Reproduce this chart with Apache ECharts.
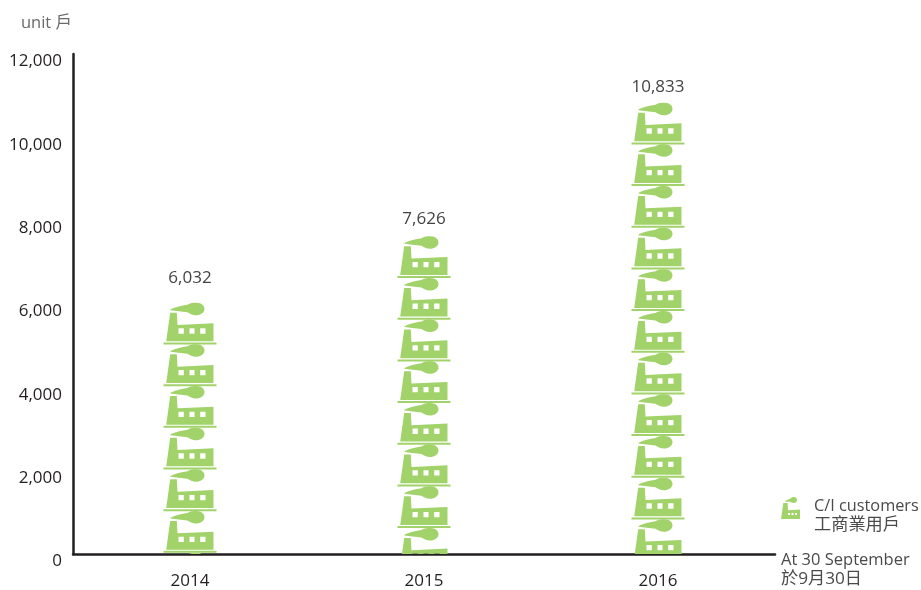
<!DOCTYPE html>
<html>
<head>
<meta charset="utf-8">
<style>
html, body { margin: 0; padding: 0; background: #fff; }
#chart { width: 921px; height: 590px; }
</style>
<script src="https://cdn.jsdelivr.net/npm/echarts@6/dist/echarts.min.js"></script>
</head>
<body>
<div id="chart"></div>
<script>
const years = ['2014', '2015', '2016'];
const customers = [6032, 7626, 10833];
const labelGaps = [25, 17, 15];

const FONT = '"Open Sans", "Noto Sans CJK TC", sans-serif';
const GREEN = '#a1d36a';
// one factory, drawn in a 53x42 box, windows wind the other way so they stay empty
const FACTORY = 'M0,39.8L53,39.8L53,41.8L0,41.8Z' +
    'M6.7,10L13.3,10L14,22.3L50,20.7L50,38.7L2.7,38.7Z' +
    'M15,25.7L15,31L20.3,31L20.3,25.7Z' +
    'M26,25.7L26,31L31,31L31,25.7Z' +
    'M36.7,25.7L36.7,31L42,31L42,25.7Z' +
    'M7,6.7C12,4 18,2.8 24,2C26,0.3 30,0 33,0C38,0 41,3 41,6C41,10 37,12.5 32.5,12.5C29,12.5 26,11 24,9.5C18,9 12,8.3 7,7.5Z';
// legend version, about 19x22, with empty room below so it lines up with the first text line
const FACTORY_LEGEND = 'M2.3,6L6.6,6L7,13.3L19,12.5L19,22L0,22Z' +
    'M7,16L7,18L9,18L9,16Z' +
    'M10.5,16L10.5,18L12.5,18L12.5,16Z' +
    'M14,16L14,18L16,18L16,16Z' +
    'M4,4C6,3 7.5,2.4 9,2C10,0.5 11.5,0 13,0C15,0 16,1.5 16,3C16,5 14.5,6 12.5,6C11,6 10,5.5 9,4.8C7,4.8 5.5,4.7 4,4.5Z' +
    'M21,38L21,38Z';

const chart = echarts.init(document.getElementById('chart'));

function renderFactories(params, api) {
    const top = api.coord([api.value(0), api.value(1)]);
    const base = api.coord([api.value(0), 0]);
    const period = api.size([0, 1000])[1];
    const count = Math.ceil(api.value(1) / 1000);
    const left = top[0] - 26.5;
    const icons = [];
    for (let i = 0; i < count; i++) {
        icons.push({
            type: 'path',
            shape: { pathData: FACTORY, x: left, y: top[1] + i * period, width: 53, height: 41.8 },
            style: { fill: GREEN }
        });
    }
    return {
        type: 'group',
        children: [
            {
                type: 'group',
                children: icons,
                clipPath: { type: 'rect', shape: { x: left - 2, y: top[1] - 2, width: 57, height: base[1] - top[1] + 2 } }
            },
            {
                type: 'text',
                style: {
                    x: top[0],
                    y: top[1] - labelGaps[params.dataIndex],
                    text: echarts.format.addCommas(api.value(1)),
                    fill: '#444',
                    font: '17px ' + FONT,
                    align: 'center',
                    verticalAlign: 'middle'
                }
            }
        ]
    };
}

chart.setOption({
    animation: false,
    textStyle: { fontFamily: FONT },
    grid: { left: 73, right: 146, top: 54, bottom: 35 },
    legend: {
        left: 776,
        top: 492,
        orient: 'vertical',
        itemWidth: 21,
        itemHeight: 38,
        selectedMode: false,
        formatter: function () { return 'C/I customers\n{cjk|工商業用戶}'; },
        textStyle: {
            fontSize: 16.3,
            color: '#4a4a4a',
            lineHeight: 19,
            padding: [0, 0, 0, 7],
            rich: { cjk: { fontSize: 17.2, color: '#4a4a4a', lineHeight: 19 } }
        },
        data: [{ name: 'C/I customers\n工商業用戶', icon: 'path://' + FACTORY_LEGEND }]
    },
    xAxis: {
        type: 'category',
        data: years,
        name: 'At 30 September\n{cjk|於9月30日}',
        nameLocation: 'end',
        nameGap: 6,
        nameTextStyle: {
            fontSize: 16.5,
            color: '#4a4a4a',
            lineHeight: 19,
            align: 'left',
            verticalAlign: 'top',
            padding: [-3, 0, 0, 0],
            rich: { cjk: { fontSize: 17.2, color: '#4a4a4a', lineHeight: 19 } }
        },
        axisLine: { lineStyle: { color: '#231f20', width: 2.5 } },
        axisTick: { show: false },
        axisLabel: { fontSize: 17, color: '#231f20', margin: 19 }
    },
    yAxis: {
        type: 'value',
        min: 0,
        max: 12000,
        interval: 2000,
        name: 'unit 戶',
        nameLocation: 'end',
        nameGap: 22,
        nameTextStyle: { fontSize: 16.5, color: '#6a6a6a', align: 'right', padding: [0, 1, 0, 0] },
        axisLine: { show: true, lineStyle: { color: '#231f20', width: 2.5 } },
        axisTick: { show: false },
        splitLine: { show: false },
        axisLabel: {
            fontSize: 17,
            color: '#231f20',
            margin: 11,
            verticalAlign: 'top',
            lineHeight: 15,
            formatter: function (v) { return echarts.format.addCommas(v); }
        }
    },
    series: [{
        name: 'C/I customers\n工商業用戶',
        type: 'custom',
        renderItem: renderFactories,
        encode: { x: 0, y: 1 },
        itemStyle: { color: GREEN },
        data: years.map((y, i) => [i, customers[i]])
    }]
});
</script>
</body>
</html>
